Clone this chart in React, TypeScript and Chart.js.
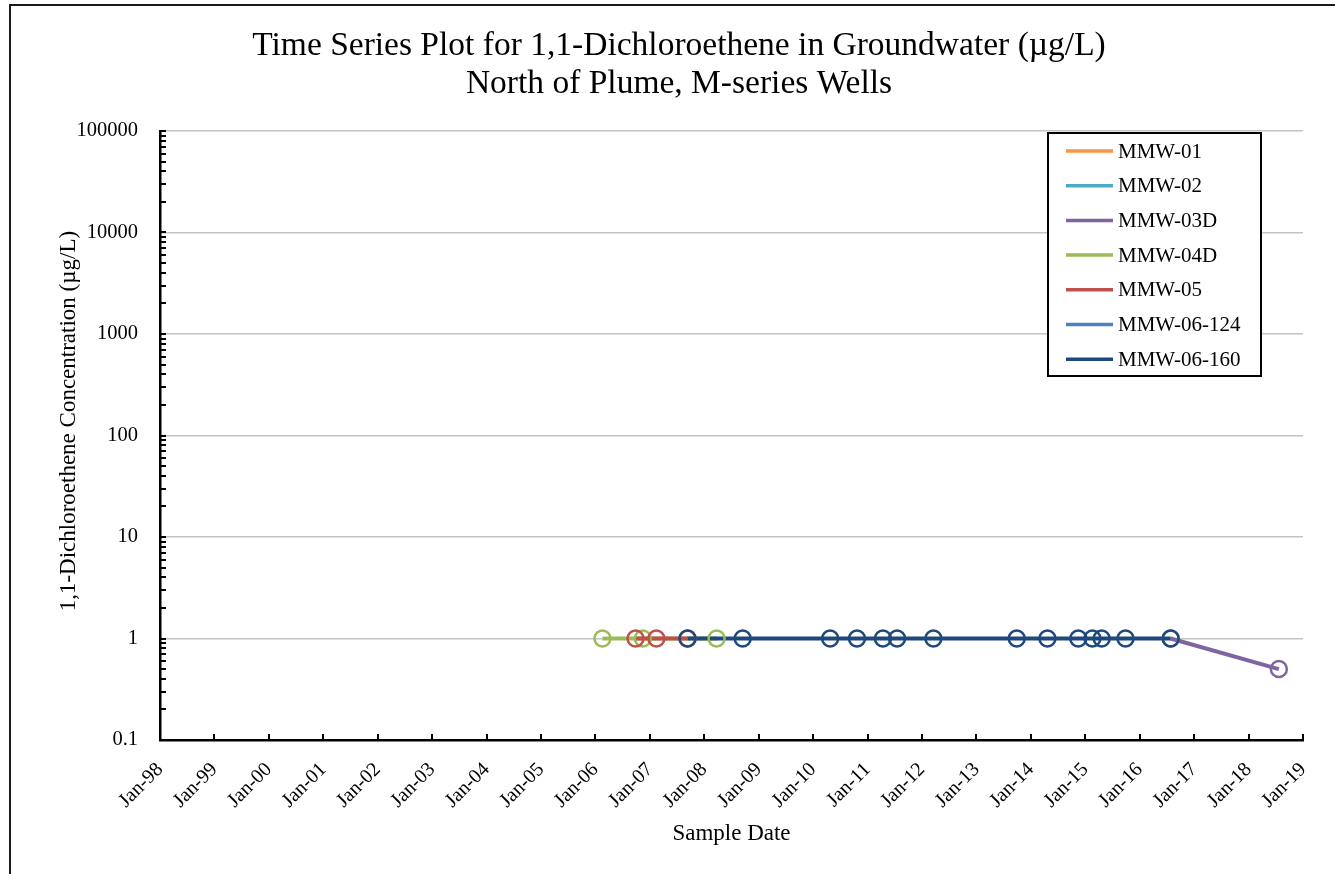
import React, { useEffect, useRef } from "react";
import { Chart, registerables } from "chart.js";

Chart.register(...registerables);

const FONT = "'Liberation Serif', 'Times New Roman', serif";

const titleLines = [
  "Time Series Plot for 1,1-Dichloroethene in Groundwater (µg/L)",
  "North of Plume, M-series Wells",
];
const yAxisTitle = "1,1-Dichloroethene Concentration (µg/L)";
const xAxisTitle = "Sample Date";

const seriesNames = ["MMW-01", "MMW-02", "MMW-03D", "MMW-04D", "MMW-05", "MMW-06-124", "MMW-06-160"];
const seriesColors = ["#F79646", "#4BACC6", "#8064A2", "#9BBB59", "#C0504D", "#4F81BD", "#1F497D"];

const mmw01Dates: string[] = [];
const mmw01Values: number[] = [];
const mmw02Dates: string[] = [];
const mmw02Values: number[] = [];
const mmw03dDates = ["2016-07-27", "2018-07-23"];
const mmw03dValues = [1, 0.5];
const mmw04dDates = ["2006-02-17", "2006-11-15", "2008-03-24"];
const mmw04dValues = [1, 1, 1];
const mmw05Dates = ["2006-09-27", "2007-02-14", "2007-09-11"];
const mmw05Values = [1, 1, 1];
const mmw06_124Dates: string[] = [];
const mmw06_124Values: number[] = [];
const mmw06_160Dates = [
  "2007-09-11", "2008-09-15", "2010-04-25", "2010-10-22", "2011-04-14", "2011-07-18",
  "2012-03-18", "2013-09-28", "2014-04-22", "2014-11-15", "2015-02-18", "2015-04-21",
  "2015-09-28", "2016-07-27",
];
const mmw06_160Values = [1, 1, 1, 1, 1, 1, 1, 1, 1, 1, 1, 1, 1, 1];

const seriesDates = [mmw01Dates, mmw02Dates, mmw03dDates, mmw04dDates, mmw05Dates, mmw06_124Dates, mmw06_160Dates];
const seriesValues = [mmw01Values, mmw02Values, mmw03dValues, mmw04dValues, mmw05Values, mmw06_124Values, mmw06_160Values];

const xTickYears = [1998, 1999, 2000, 2001, 2002, 2003, 2004, 2005, 2006, 2007, 2008, 2009, 2010, 2011, 2012, 2013, 2014, 2015, 2016, 2017, 2018, 2019];
const xTickLabels = ["Jan-98", "Jan-99", "Jan-00", "Jan-01", "Jan-02", "Jan-03", "Jan-04", "Jan-05", "Jan-06", "Jan-07", "Jan-08", "Jan-09", "Jan-10", "Jan-11", "Jan-12", "Jan-13", "Jan-14", "Jan-15", "Jan-16", "Jan-17", "Jan-18", "Jan-19"];
const yTickValues = [0.1, 1, 10, 100, 1000, 10000, 100000];
const yTickLabels = ["0.1", "1", "10", "100", "1000", "10000", "100000"];

const toMs = (d: string) => {
  const [y, m, dd] = d.split("-").map(Number);
  return Date.UTC(y, m - 1, dd);
};
const yearMs = (y: number) => Date.UTC(y, 0, 1);

const framePlugin = {
  id: "frame",
  beforeDraw(chart: any) {
    const ctx = chart.ctx;
    ctx.save();
    ctx.fillStyle = "#ffffff";
    ctx.fillRect(0, 0, chart.width, chart.height);
    ctx.strokeStyle = "#1a1a1a";
    ctx.lineWidth = 2;
    ctx.beginPath();
    ctx.moveTo(10, chart.height + 5);
    ctx.lineTo(10, 5);
    ctx.lineTo(chart.width + 5, 5);
    ctx.stroke();
    ctx.restore();
  },
};

const tickMarksPlugin = {
  id: "tickMarks",
  afterDraw(chart: any) {
    const ctx = chart.ctx;
    const xs = chart.scales.x;
    const ys = chart.scales.y;
    const area = chart.chartArea;
    ctx.save();
    ctx.strokeStyle = "#000";
    ctx.lineWidth = 2;
    ctx.beginPath();
    for (let e = -1; e < 5; e++) {
      for (let k = 1; k <= 9; k++) {
        const v = k * Math.pow(10, e);
        const py = Math.round(ys.getPixelForValue(v));
        ctx.moveTo(area.left, py);
        ctx.lineTo(area.left + 6, py);
      }
    }
    const topPy = Math.round(ys.getPixelForValue(100000));
    ctx.moveTo(area.left, topPy);
    ctx.lineTo(area.left + 6, topPy);
    xTickYears.forEach((y) => {
      const px = Math.round(xs.getPixelForValue(yearMs(y)));
      ctx.moveTo(px, area.bottom);
      ctx.lineTo(px, area.bottom - 6);
    });
    ctx.stroke();
    ctx.restore();
  },
};

const legendPlugin = {
  id: "boxLegend",
  afterDraw(chart: any) {
    const ctx = chart.ctx;
    const x0 = 1048;
    const y0 = 133;
    const w = 213;
    const h = 243;
    const rowH = 34.7;
    ctx.save();
    ctx.fillStyle = "#ffffff";
    ctx.fillRect(x0, y0, w, h);
    ctx.strokeStyle = "#000";
    ctx.lineWidth = 2;
    ctx.strokeRect(x0, y0, w, h);
    ctx.font = `21px ${FONT}`;
    ctx.textBaseline = "middle";
    ctx.textAlign = "left";
    seriesNames.forEach((name, i) => {
      const cy = y0 + 18 + i * rowH;
      ctx.strokeStyle = seriesColors[i];
      ctx.lineWidth = 3.5;
      ctx.beginPath();
      ctx.moveTo(x0 + 18, cy);
      ctx.lineTo(x0 + 65, cy);
      ctx.stroke();
      ctx.fillStyle = "#000";
      ctx.fillText(name, x0 + 70, cy + 1);
    });
    ctx.restore();
  },
};

export default function App() {
  const canvasRef = useRef<HTMLCanvasElement | null>(null);

  useEffect(() => {
    document.body.style.margin = "0";
    const canvas = canvasRef.current;
    if (!canvas) return;
    Chart.defaults.font.family = FONT;
    Chart.defaults.color = "#000";

    const n = seriesNames.length;
    const lineSets = seriesNames.map((name, i) => ({
      label: name,
      data: seriesDates[i].map((d, j) => ({ x: toMs(d), y: seriesValues[i][j] })),
      borderColor: seriesColors[i],
      backgroundColor: seriesColors[i],
      borderWidth: 4,
      pointRadius: 0,
      showLine: true,
      tension: 0,
      order: 100 + (n - 1 - i),
    }));
    const pointSets = seriesNames.map((name, i) => ({
      label: name + " markers",
      data: seriesDates[i].map((d, j) => ({ x: toMs(d), y: seriesValues[i][j] })),
      borderColor: seriesColors[i],
      backgroundColor: "rgba(0,0,0,0)",
      showLine: false,
      pointRadius: 8,
      pointBorderWidth: 2.5,
      pointBorderColor: seriesColors[i],
      pointBackgroundColor: "rgba(0,0,0,0)",
      order: n - 1 - i,
    }));

    const chart = new Chart(canvas, {
      type: "line",
      data: { datasets: [...lineSets, ...pointSets] as any },
      options: {
        animation: false,
        responsive: false,
        events: [],
        layout: { padding: { left: 10, right: 2, top: 0, bottom: 0 } },
        plugins: {
          legend: { display: false },
          tooltip: { enabled: false },
          title: {
            display: true,
            text: titleLines,
            color: "#000",
            font: { family: FONT, size: 33.5, weight: "normal", lineHeight: "38px" } as any,
            padding: { top: 27, bottom: 28 },
          },
        },
        scales: {
          x: {
            type: "linear",
            position: "bottom",
            min: yearMs(1998),
            max: yearMs(2019),
            afterBuildTicks: (scale: any) => {
              scale.ticks = xTickYears.map((y) => ({ value: yearMs(y) }));
            },
            afterFit: (scale: any) => {
              scale.height = 134;
            },
            ticks: {
              autoSkip: false,
              minRotation: 45,
              maxRotation: 45,
              padding: 18,
              color: "#000",
              font: { family: FONT, size: 20 },
              callback: (_v: any, i: number) => xTickLabels[i],
            },
            grid: { display: false, drawTicks: false },
            border: { display: true, color: "#000", width: 2.5 },
            title: {
              display: true,
              text: xAxisTitle,
              color: "#000",
              font: { family: FONT, size: 23, lineHeight: 1.2 },
              padding: { top: 0, bottom: 26 },
            },
          },
          y: {
            type: "logarithmic",
            position: "left",
            min: 0.1,
            max: 100000,
            afterBuildTicks: (scale: any) => {
              scale.ticks = yTickValues.map((v) => ({ value: v, major: true }));
            },
            afterFit: (scale: any) => {
              scale.width = 150;
            },
            ticks: {
              autoSkip: false,
              padding: 22,
              color: "#000",
              font: { family: FONT, size: 20.5 },
              callback: (_v: any, i: number) => yTickLabels[i],
            },
            grid: {
              display: true,
              drawTicks: false,
              lineWidth: 1.5,
              color: (c: any) => (c.tick && c.tick.value === 0.1 ? "rgba(0,0,0,0)" : "#c4c4c4"),
            },
            border: { display: true, color: "#000", width: 2.5 },
            title: {
              display: true,
              text: "     " + yAxisTitle,
              color: "#000",
              font: { family: FONT, size: 23, lineHeight: 1.2 },
              padding: { top: 45, bottom: 0 },
            },
          },
          yPad: {
            type: "linear",
            position: "right",
            display: true,
            afterFit: (scale: any) => {
              scale.width = 45;
            },
            ticks: { display: false },
            grid: { display: false, drawTicks: false },
            border: { display: false },
          },
        },
      } as any,
      plugins: [framePlugin, tickMarksPlugin, legendPlugin],
    });

    return () => chart.destroy();
  }, []);

  return (
    <div style={{ position: "fixed", left: 0, top: 0, width: 1335, height: 874, overflow: "hidden", background: "#fff" }}>
      <canvas ref={canvasRef} width={1350} height={874} style={{ display: "block", width: 1350, height: 874 }} />
    </div>
  );
}
